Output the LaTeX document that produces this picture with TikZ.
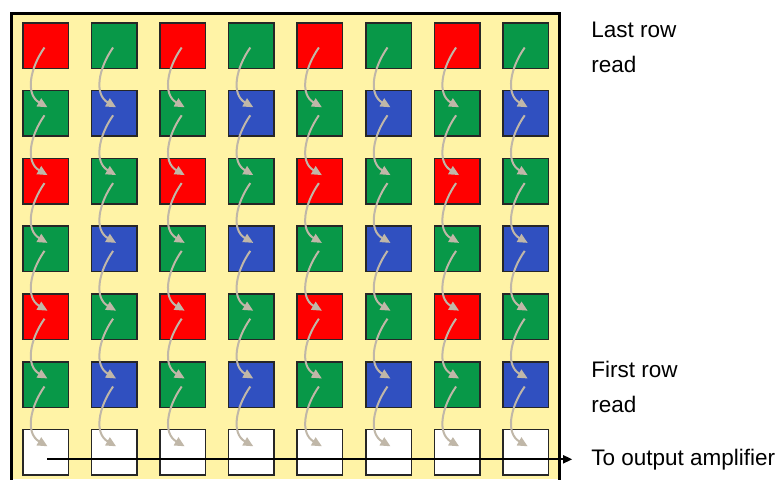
\documentclass[tikz,border=0pt]{standalone}
\usepackage{fontspec}
\setmainfont{Liberation Sans}
\usetikzlibrary{arrows.meta, positioning}
\definecolor{bayerred}{RGB}{255,0,0}
\definecolor{bayergreen}{RGB}{8,152,72}
\definecolor{bayerblue}{RGB}{48,80,192}
\definecolor{sensorbg}{RGB}{255,243,166}
\definecolor{readgray}{RGB}{192,183,168}

\begin{document}
\begin{tikzpicture}[x=1pt, y=-1pt,
    pixel/.style={draw=black!85, line width=1.5pt, minimum size=45.5pt, inner sep=0pt},
    readout/.style={draw=readgray, line width=2pt, -{Triangle[length=10pt, width=9pt]}},
    rowlabel/.style={inner sep=0pt, align=left, font=\fontsize{22.5}{35}\selectfont}]
    % Background
    \useasboundingbox (0,0) rectangle (781,479);
    \fill[sensorbg] (11,479) rectangle (559,13);
    \draw[line width=3pt] (11,482) -- (11,13) -- (559,13) -- (559,482);

    % Nodes
    \foreach \r/\ca/\cb in {0/bayerred/bayergreen, 1/bayergreen/bayerblue, 2/bayerred/bayergreen,
                            3/bayergreen/bayerblue, 4/bayerred/bayergreen, 5/bayergreen/bayerblue, 6/white/white} {
        \foreach \c in {0,2,4,6}
            \node[pixel, fill=\ca] (px-\r-\c) at ({45.5+68.6*\c},{45.5+67.8*\r}) {};
        \foreach \c in {1,3,5,7}
            \node[pixel, fill=\cb] (px-\r-\c) at ({45.5+68.6*\c},{45.5+67.8*\r}) {};
    }
    \node[rowlabel, right=42pt of px-0-7.north east, anchor=north west] (lastrow) {Last row\\read};
    \node[rowlabel, right=42pt of px-5-7.north east, anchor=north west] (firstrow) {First row\\read};
    \node[rowlabel, right=42pt of px-6-7.east, yshift=-7pt] (outamp) {To output amplifier};

    % Arrows
    \foreach \r in {0,...,5} {
        \pgfmathtruncatemacro{\rn}{\r+1}
        \foreach \c in {0,...,7}
            \draw[readout] ([xshift=-1pt, yshift=-2pt]px-\r-\c.center) to[out=-125, in=150, looseness=1.1] ([xshift=2pt, yshift=6pt]px-\rn-\c.center);
    }
    \draw[line width=1.8pt, -{Triangle[length=9pt, width=8pt]}, shorten >=19pt] ([xshift=1.5pt]px-6-0.center |- outamp.west) -- (outamp.west);
\end{tikzpicture}
\end{document}
